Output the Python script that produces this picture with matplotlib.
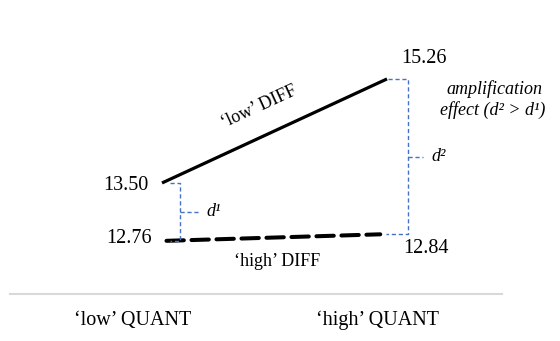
import matplotlib
matplotlib.use("Agg")
import numpy as np
import matplotlib.pyplot as plt

plt.rcParams["font.family"] = ["Liberation Serif", "DejaVu Serif"]
plt.rcParams["lines.scale_dashes"] = False

# Data
low_diff = [13.50, 15.26]
high_diff = [12.76, 12.84]
series_labels = ["\u2018low\u2019 DIFF", "\u2018high\u2019 DIFF"]
axis_labels = ["\u2018low\u2019 QUANT", "\u2018high\u2019 QUANT"]

W, H = 560, 341
fig = plt.figure(figsize=(W / 100, H / 100), dpi=100)
ax = fig.add_axes([0, 0, 1, 1])
ax.set_axis_off()

# Compressive y scale so the small gaps near the bottom stay readable
shift = 9.4
ax.set_yscale("function",
              functions=(lambda v: np.log(np.maximum(v - shift, 1e-9)),
                         lambda u: np.exp(u) + shift))
px_per_u = 291.3
u_top = 594.0 / px_per_u
u_bot = (594.0 - H) / px_per_u
ax.set_ylim(np.exp(u_bot) + shift, np.exp(u_top) + shift)

px_per_x = 225.0
x0_px = 162.0
ax.set_xlim(-x0_px / px_per_x, (W - x0_px) / px_per_x)

xs = [0, 1]
black = "#000000"
blue = "#4472C4"

ax.plot(xs, low_diff, color=black, lw=2.3, solid_capstyle="butt")
t0, t1 = 0.02, 0.97
ax.plot([t0, t1],
        [high_diff[0] + t0 * (high_diff[1] - high_diff[0]),
         high_diff[0] + t1 * (high_diff[1] - high_diff[0])],
        color=black, lw=2.9, ls=(0, (12.5, 5.5)), dash_capstyle="round")


def vlabel(x, y, txt, dx, dy, ha):
    ax.annotate(txt, (x, y), xytext=(dx, dy), textcoords="offset pixels",
                ha=ha, va="center", fontsize=14.5)


vlabel(0, low_diff[0], f"{low_diff[0]:.2f}", -14, -3, "right")
vlabel(1, low_diff[1], f"{low_diff[1]:.2f}", 37, 20, "center")
vlabel(0, high_diff[0], f"{high_diff[0]:.2f}", -10, 2, "right")
vlabel(1, high_diff[1], f"{high_diff[1]:.2f}", 39, -14, "center")

# brackets marking the two differences
dot = dict(color=blue, lw=1.0, ls=(0, (3, 2)))
bx1 = 18 / px_per_x
ax.plot([8 / px_per_x, bx1, bx1, 8 / px_per_x],
        [low_diff[0], low_diff[0], high_diff[0], high_diff[0]], **dot)
mid1 = np.exp((np.log(low_diff[0] - shift) + np.log(high_diff[0] - shift)) / 2) + shift
ax.plot([bx1, 38 / px_per_x], [mid1, mid1], **dot)
ax.annotate("d\u00b9", (38 / px_per_x, mid1), xytext=(6, 0),
            textcoords="offset pixels", ha="left", va="center",
            fontsize=13, style="italic")

bx2 = 1 + 21 / px_per_x
ax.plot([1 + 1 / px_per_x, bx2, bx2, 1 - 1 / px_per_x],
        [low_diff[1], low_diff[1], high_diff[1], high_diff[1]], **dot)
mid2 = np.exp((np.log(low_diff[1] - shift) + np.log(high_diff[1] - shift)) / 2) + shift
ax.plot([bx2, 1 + 36 / px_per_x], [mid2, mid2], **dot)
ax.annotate("d\u00b2", (1 + 36 / px_per_x, mid2), xytext=(8, 0),
            textcoords="offset pixels", ha="left", va="center",
            fontsize=13, style="italic")


def pix(px, py):
    return px / W, 1 - py / H


ax.text(*pix(494, 89), "amplification", transform=ax.transAxes,
        ha="center", va="center", fontsize=13, style="italic")
ax.text(*pix(493, 110), "effect (d\u00b2 > d\u00b9)", transform=ax.transAxes,
        ha="center", va="center", fontsize=13, style="italic")

# series labels
ax.text(*pix(259, 107), series_labels[0], transform=ax.transAxes,
        ha="center", va="center", fontsize=13, rotation=24.6,
        rotation_mode="anchor")
ax.text(*pix(277, 261), series_labels[1], transform=ax.transAxes,
        ha="center", va="center", fontsize=13)

# baseline and category labels
ax.plot([10 / W, 502 / W], [1 - 294 / H, 1 - 294 / H], transform=ax.transAxes,
        color="#d9d9d9", lw=1.5)
ax.text(*pix(133, 320), axis_labels[0], transform=ax.transAxes,
        ha="center", va="center", fontsize=14.5)
ax.text(*pix(378, 320), axis_labels[1], transform=ax.transAxes,
        ha="center", va="center", fontsize=14.5)

fig.savefig("out.png", dpi=100)
